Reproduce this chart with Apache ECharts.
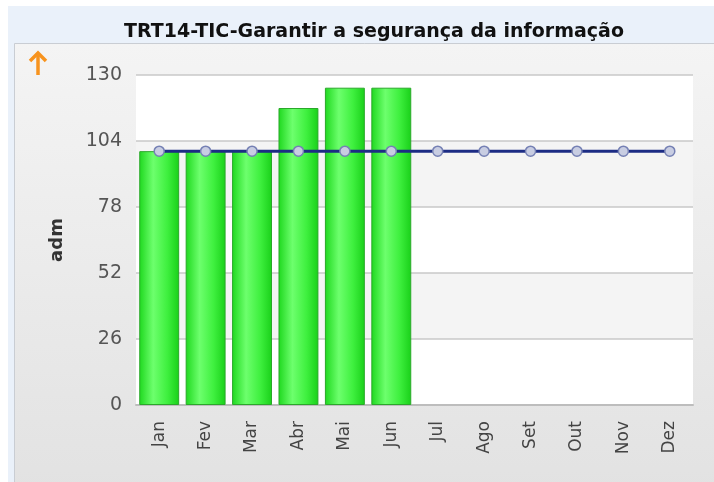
<!DOCTYPE html>
<html>
<head>
    <meta charset="utf-8">
    <title>ECharts</title>
    <script src="https://cdn.jsdelivr.net/npm/echarts@6/dist/echarts.min.js"></script>
    <style>
      body { padding: 0; margin: 0; background: #fff; }
      #main { width: 714px; height: 482px; }
    </style>
</head>
<body>
  <div id="main"></div>
  <script type="text/javascript">
    var months = ['Jan', 'Fev', 'Mar', 'Abr', 'Mai', 'Jun', 'Jul', 'Ago', 'Set', 'Out', 'Nov', 'Dez']
    var realizado = [100, 100, 100, 117, 125, 125, null, null, null, null, null, null]
    var meta = [100, 100, 100, 100, 100, 100, 100, 100, 100, 100, 100, 100]
    var yTicks = { min: 0, max: 130, interval: 26 }

    var myChart = echarts.init(document.getElementById('main'))

    var option = {
      animation: false,
      graphic: [
        { type: 'rect', z: -10, shape: { x: 8, y: 6, width: 706, height: 476 }, style: { fill: '#eaf1fa' } },
        {
          type: 'rect', z: -9,
          shape: { x: 14.5, y: 43.5, width: 710, height: 450 },
          style: {
            fill: new echarts.graphic.LinearGradient(0, 0, 0, 1, [
              { offset: 0, color: '#f4f4f4' },
              { offset: 1, color: '#e2e2e2' }
            ]),
            stroke: '#c9cdd3', lineWidth: 1
          }
        },
        {
          type: 'text', x: 374, y: 32,
          style: {
            text: 'TRT14-TIC-Garantir a segurança da informação',
            font: 'bold 19px "DejaVu Sans", sans-serif', fill: '#111',
            align: 'center', verticalAlign: 'middle'
          }
        },
        {
          type: 'polyline', shape: { points: [[30, 61], [38, 53], [46, 61]] },
          style: { stroke: '#f7931e', lineWidth: 3.5, fill: null }
        },
        {
          type: 'line', shape: { x1: 38, y1: 54, x2: 38, y2: 75 },
          style: { stroke: '#f7931e', lineWidth: 3.5 }
        }
      ],
      grid: { left: 136, right: 21, top: 75, bottom: 77, containLabel: false },
      xAxis: {
        type: 'category',
        data: months,
        axisLine: { lineStyle: { color: '#bdbdbd', width: 2 } },
        axisTick: { show: false },
        axisLabel: { rotate: 90, margin: 16, color: '#444', fontSize: 17, fontFamily: '"DejaVu Sans", sans-serif' }
      },
      yAxis: {
        type: 'value',
        min: yTicks.min, max: yTicks.max, interval: yTicks.interval,
        name: 'adm', nameLocation: 'middle', nameRotate: 90, nameGap: 70,
        nameTextStyle: { fontWeight: 'bold', fontSize: 18, color: '#333', fontFamily: '"DejaVu Sans", sans-serif' },
        axisLine: { show: false },
        axisTick: { show: false },
        axisLabel: { margin: 14, color: '#555', fontSize: 19, fontFamily: '"DejaVu Sans", sans-serif' },
        splitLine: { lineStyle: { color: '#c8c8c8', width: 1.5 } },
        splitArea: { show: true, areaStyle: { color: ['#ffffff', '#f4f4f4'] } }
      },
      series: [
        {
          type: 'bar',
          data: realizado,
          barWidth: '86%',
          itemStyle: {
            color: new echarts.graphic.LinearGradient(0, 0, 1, 0, [
              { offset: 0, color: '#1ed81e' },
              { offset: 0.35, color: '#6dff6d' },
              { offset: 0.7, color: '#3ff03f' },
              { offset: 1, color: '#19d019' }
            ]),
            borderColor: '#2aa82a',
            borderWidth: 1
          }
        },
        {
          type: 'line',
          data: meta,
          symbol: 'circle',
          symbolSize: 10,
          lineStyle: { color: '#1c2c84', width: 3 },
          itemStyle: { color: '#c8cde2', borderColor: '#7580b4', borderWidth: 1.5 }
        }
      ]
    }
    myChart.setOption(option)
  </script>
</body>
</html>
